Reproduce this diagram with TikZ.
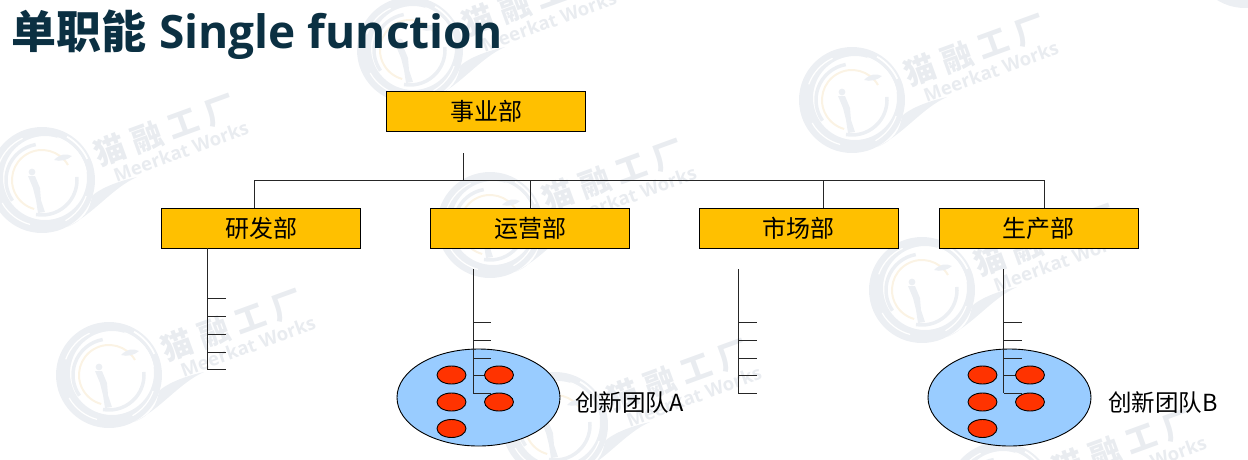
\documentclass[tikz,border=0pt]{standalone}
\usepackage{fontspec}
\setmainfont{Noto Sans CJK SC}
\newfontfamily\titlelat{Open Sans}
\newfontfamily\wmlat{Open Sans}
\usetikzlibrary{shapes.geometric}
\definecolor{boxfill}{HTML}{FFC000}
\definecolor{teamfill}{HTML}{99CCFF}
\definecolor{memberfill}{HTML}{FF3300}
\definecolor{titlecol}{HTML}{0B3042}
\definecolor{wmcol}{HTML}{ECEFF3}
\definecolor{wmtext}{HTML}{E9ECF0}
\definecolor{wmgold}{HTML}{FBF3E4}
\tikzset{
  x=1pt,y=-1pt,
  deptbox/.style={draw=black,line width=1pt,fill=boxfill,minimum width=199pt,minimum height=40pt,inner sep=0pt,font=\fontsize{24}{24}\selectfont,text=black},
  conn/.style={draw=black!85,line width=1pt},
  team/.style={ellipse,draw=black,line width=0.9pt,fill=teamfill,minimum width=163pt,minimum height=97pt,inner sep=0pt},
  member/.style={ellipse,draw=black,line width=0.9pt,fill=memberfill,minimum width=29pt,minimum height=18pt,inner sep=0pt},
  teamlabel/.style={font=\fontsize{23.5}{24}\selectfont,inner sep=0pt},
  wmslit/.style={draw=white,line width=1.2pt}
}
\newcommand{\wmark}[2]{%
\begin{scope}[shift={(#1,#2)},x=1pt,y=1pt]
  % gold inner glow
  \draw[wmgold,line width=2pt] (30:30) arc[start angle=30,end angle=255,radius=30];
  % main crescent band
  \fill[wmcol,even odd rule] (0,0) circle[radius=53] (3,2) circle[radius=42];
  % inner thin bands
  \draw[wmcol,line width=3.5pt] (100:36) arc[start angle=100,end angle=215,radius=36];
  \draw[wmcol,line width=3.5pt] (-100:35) arc[start angle=-100,end angle=5,radius=35];
  % white slits in the band
  \draw[wmslit] (115:46) arc[start angle=115,end angle=160,radius=46];
  \draw[wmslit] (10:45) arc[start angle=10,end angle=70,radius=45];
  \draw[wmslit,line width=1.8pt] (25:50) arc[start angle=25,end angle=60,radius=50];
  \draw[wmslit] (-150:46) arc[start angle=-150,end angle=-105,radius=46];
  \draw[wmslit] (-60:47) arc[start angle=-60,end angle=-20,radius=47];
  % tail
  \fill[wmcol] (25,-47) .. controls (52,-34) and (70,-8) .. (95,3) .. controls (72,-2) and (56,-10) .. (50,-16) .. controls (48,-30) and (42,-40) .. (25,-47) -- cycle;
  % figure and leaf
  \fill[wmcol] (-10,8) circle[radius=3.4];
  \fill[wmcol] (-14,4) -- (-7,4) -- (-2,-8) -- (-1,-20) -- (3,-32) -- (-4,-33) -- (-6,-20) -- (-9,-8) -- cycle;
  \fill[wmcol] (12,20) .. controls (18,26) and (24,27) .. (30,24) .. controls (26,20) and (18,18) .. (12,20) -- cycle;
  \node[rotate=20,text=wmtext,font=\fontsize{31}{31}\selectfont\bfseries,inner sep=0pt] at (123,50) {猫\hspace{8pt}融\hspace{8pt}工\hspace{8pt}厂};
  \node[rotate=20,text=wmtext,font=\wmlat\fontsize{18.6}{20}\selectfont\bfseries,inner sep=0pt] at (139,28.5) {Meerkat Works};
\end{scope}}
\begin{document}
\begin{tikzpicture}
\useasboundingbox (0,0) rectangle (1248,459);
\begin{scope}
\clip (0,0) rectangle (1248,459);
\wmark{42}{180}
\wmark{410}{50}
\wmark{852}{100}
\wmark{490}{225}
\wmark{109}{375}
\wmark{555}{425}
\wmark{922}{290}
\wmark{1000}{495}
\wmark{1245}{-45}
\end{scope}

\node[anchor=base west,inner sep=0pt,text=titlecol,font=\fontsize{45}{45}\selectfont\bfseries] (title) at (11,48) {单职能\hspace{13pt}{\titlelat\fontsize{46}{46}\selectfont\bfseries Single function}};

\node[deptbox] (top) at (486.2,111) {事业部};
\node[deptbox] (rd) at (261.2,228) {研发部};
\node[deptbox] (ops) at (530.2,228) {运营部};
\node[deptbox] (mkt) at (798.5,228) {市场部};
\node[deptbox] (prod) at (1038.5,228) {生产部};

% org tree
\coordinate (stub) at (463,153);
\coordinate (bus) at (463,180);
\coordinate (busL) at (254,180);
\coordinate (busO) at (530,180);
\coordinate (busM) at (823,180);
\coordinate (busR) at (1044,180);
\coordinate (rdIn) at (254,208);
\coordinate (opsIn) at (530,208);
\coordinate (mktIn) at (823,208);
\coordinate (prodIn) at (1044,208);
\draw[conn] (stub) -- (bus);
\draw[conn] (rdIn) -- (busL) -- (busR) -- (prodIn);
\draw[conn] (busO) -- (opsIn);
\draw[conn] (busM) -- (mktIn);

% team ellipses
\node[team] (teamA) at (478.5,397.5) {};
\node[team] (teamB) at (1009.5,397.5) {};

% ladders
\newcommand{\ladder}[6]{%
  \coordinate (#1a) at (#2,#3);
  \coordinate (#1b) at (#2,#4);
  \draw[conn] (#1a) -- (#1b);
  \foreach \yy in {#5} {
    \coordinate (#1t) at (#2,\yy);
    \coordinate (#1u) at (#6,\yy);
    \draw[conn] (#1t) -- (#1u);
  }
}
\ladder{l}{207}{248}{369.5}{298,316,334,352,369.5}{226}
\ladder{o}{473}{269}{393}{322,340,358,375,393}{491}
\ladder{m}{738}{269}{393}{322,340,358,375,393}{757}
\ladder{p}{1003.5}{269}{393}{322,340,358,375,393}{1022}

% members
\node[member] (a1) at (451.5,375) {};
\node[member] (a2) at (499,375) {};
\node[member] (a3) at (451.5,402) {};
\node[member] (a4) at (499,402) {};
\node[member] (a5) at (451.5,428.5) {};
\node[member] (b1) at (982.5,375) {};
\node[member] (b2) at (1030,375) {};
\node[member] (b3) at (982.5,402) {};
\node[member] (b4) at (1030,402) {};
\node[member] (b5) at (982.5,428.5) {};

\node[teamlabel,anchor=west] (la) at (575,403) {创新团队A};
\node[teamlabel,anchor=west] (lb) at (1108,403) {创新团队B};
\end{tikzpicture}
\end{document}
